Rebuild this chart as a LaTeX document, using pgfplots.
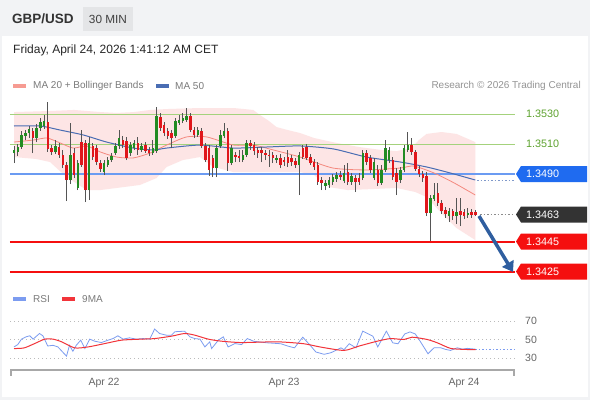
\documentclass[border=0pt]{standalone}
\usepackage{pgfplots}
\pgfplotsset{compat=1.18}
\usepackage{pgfplotstable}
\usetikzlibrary{arrows.meta}
\usepackage{fontspec}
\setmainfont{Liberation Sans}

\definecolor{outerbg}{HTML}{F2F3F5}
\definecolor{minbox}{HTML}{E4E5E7}
\definecolor{cgreen}{HTML}{228B22}
\definecolor{cred}{HTML}{E0161B}
\definecolor{wick}{HTML}{555555}
\definecolor{bandpink}{HTML}{FDE5E5}
\definecolor{ma20}{HTML}{F4897F}
\definecolor{ma50}{HTML}{4A6DB3}
\definecolor{lvlgreen}{HTML}{A4D27C}
\definecolor{txtgreen}{HTML}{5DA22E}
\definecolor{lvlblue}{HTML}{6B9BF2}
\definecolor{tagblue}{HTML}{1F6BF0}
\definecolor{tagdark}{HTML}{333333}
\definecolor{levelred}{HTML}{F50F0F}
\definecolor{arrowblue}{HTML}{2F5E9F}
\definecolor{rsiblue}{HTML}{7C9CF0}
\definecolor{rsired}{HTML}{F2343A}
\definecolor{gridgray}{HTML}{BBBBBB}
\definecolor{lblgray}{HTML}{666666}
\definecolor{axisgray}{HTML}{A8A8A8}

\newcommand{\fs}[1]{\fontsize{#1}{#1}\selectfont}
\newcommand{\pricetag}[3]{%
  \fill[#2] ([xshift=1pt]#1) -- ++(5pt,8pt) -- ++(66pt,0pt) -- ++(0pt,-16pt) -- ++(-66pt,0pt) -- cycle;
  \node[anchor=west, inner sep=0pt, text=white, font=\fs{10.8}] at ([xshift=11pt]#1) {#3};
}

\pgfplotstableread{
t o h l c
24 1.35040 1.35087 1.34973 1.35060
25 1.35047 1.35100 1.35020 1.35080
26 1.35080 1.35187 1.35067 1.35160
27 1.35153 1.35193 1.35127 1.35173
28 1.35173 1.35220 1.35140 1.35200
30 1.35140 1.35233 1.35113 1.35207
31 1.35207 1.35273 1.35187 1.35247
32 1.35220 1.35293 1.35200 1.35253
35 1.35047 1.35127 1.35033 1.35087
39 1.34860 1.35240 1.34833 1.35027
41 1.34807 1.34993 1.34793 1.34973
44 1.34793 1.35147 1.34727 1.35107
48 1.34913 1.34993 1.34893 1.34973
49 1.34960 1.35013 1.34947 1.34993
50 1.34993 1.35040 1.34980 1.35020
51 1.35040 1.35107 1.35027 1.35087
52 1.35087 1.35193 1.35067 1.35140
55 1.35040 1.35113 1.35020 1.35093
56 1.35073 1.35127 1.35060 1.35107
58 1.35060 1.35107 1.35047 1.35087
61 1.35040 1.35127 1.35027 1.35073
62 1.35053 1.35347 1.35040 1.35287
67 1.35153 1.35273 1.35140 1.35253
68 1.35240 1.35293 1.35227 1.35260
69 1.35253 1.35307 1.35240 1.35273
70 1.35260 1.35340 1.35247 1.35287
73 1.35160 1.35213 1.35147 1.35193
78 1.34940 1.35093 1.34880 1.35073
79 1.35087 1.35193 1.35073 1.35160
80 1.35153 1.35240 1.35140 1.35187
82 1.34973 1.35093 1.34960 1.35073
85 1.34993 1.35060 1.34980 1.35027
86 1.35027 1.35127 1.35013 1.35107
94 1.34993 1.35027 1.34973 1.35007
100 1.34960 1.35047 1.34760 1.35027
107 1.34820 1.34860 1.34793 1.34840
108 1.34827 1.34880 1.34807 1.34860
109 1.34847 1.34900 1.34827 1.34880
110 1.34867 1.34913 1.34847 1.34893
112 1.34853 1.34960 1.34840 1.34907
114 1.34847 1.34907 1.34827 1.34887
117 1.34873 1.35060 1.34860 1.35040
120 1.34873 1.35007 1.34860 1.34980
122 1.34840 1.34960 1.34827 1.34927
123 1.34927 1.35127 1.34913 1.35073
124 1.34993 1.35080 1.34973 1.35060
127 1.34860 1.34947 1.34840 1.34927
128 1.34927 1.35093 1.34913 1.35073
129 1.35060 1.35180 1.35047 1.35093
135 1.34640 1.34760 1.34440 1.34740
136 1.34733 1.34840 1.34720 1.34760
140 1.34620 1.34673 1.34580 1.34653
142 1.34620 1.34740 1.34567 1.34647
145 1.34627 1.34673 1.34607 1.34640
}\up

\pgfplotstableread{
t o h l c
29 1.35187 1.35207 1.35040 1.35140
33 1.35247 1.35380 1.35047 1.35067
34 1.35073 1.35093 1.35027 1.35047
36 1.35080 1.35107 1.35007 1.35027
37 1.35027 1.35060 1.34940 1.34960
38 1.34960 1.34980 1.34720 1.34860
40 1.35040 1.35073 1.34873 1.34893
42 1.35113 1.35193 1.34947 1.34960
43 1.35107 1.35127 1.34713 1.34793
45 1.35087 1.35107 1.34993 1.35013
46 1.35073 1.35093 1.34960 1.34980
47 1.34973 1.34993 1.34913 1.34933
53 1.35127 1.35153 1.35073 1.35093
54 1.35120 1.35147 1.34993 1.35007
57 1.35107 1.35147 1.35027 1.35060
59 1.35093 1.35113 1.35040 1.35053
60 1.35060 1.35080 1.35020 1.35040
63 1.35280 1.35307 1.35187 1.35207
64 1.35227 1.35247 1.35153 1.35173
65 1.35187 1.35207 1.35133 1.35153
66 1.35173 1.35193 1.35073 1.35140
71 1.35287 1.35307 1.35180 1.35193
72 1.35193 1.35213 1.35140 1.35160
74 1.35187 1.35207 1.35073 1.35087
75 1.35087 1.35107 1.34980 1.34993
76 1.35073 1.35093 1.34887 1.34927
77 1.35007 1.35027 1.34880 1.34940
81 1.35187 1.35207 1.34920 1.34973
83 1.35027 1.35047 1.34980 1.35013
84 1.35020 1.35060 1.34980 1.35007
87 1.35107 1.35127 1.35060 1.35087
88 1.35093 1.35113 1.35027 1.35053
89 1.35060 1.35080 1.35007 1.35040
90 1.35060 1.35080 1.34980 1.35040
91 1.35040 1.35060 1.34993 1.35027
92 1.35027 1.35060 1.34947 1.35020
93 1.35027 1.35047 1.34973 1.35007
95 1.35007 1.35033 1.34940 1.34960
96 1.34993 1.35013 1.34953 1.34980
97 1.35013 1.35060 1.34947 1.34973
98 1.35007 1.35027 1.34953 1.34980
99 1.34987 1.35007 1.34940 1.34960
101 1.35073 1.35093 1.35000 1.35013
102 1.35080 1.35100 1.34993 1.35007
103 1.35013 1.35033 1.34960 1.34973
104 1.34980 1.35000 1.34927 1.34947
105 1.34960 1.34980 1.34827 1.34847
106 1.34860 1.34880 1.34793 1.34840
111 1.34893 1.34920 1.34860 1.34880
113 1.34913 1.34973 1.34827 1.34847
115 1.34873 1.34893 1.34780 1.34847
116 1.34873 1.34907 1.34827 1.34847
118 1.35040 1.35060 1.34960 1.34980
119 1.35007 1.35027 1.34907 1.34927
121 1.34927 1.34960 1.34820 1.34840
125 1.34993 1.35013 1.34860 1.34880
126 1.34907 1.34940 1.34760 1.34847
130 1.35093 1.35140 1.35027 1.35047
131 1.35047 1.35060 1.34920 1.34933
132 1.34933 1.34953 1.34880 1.34900
133 1.34900 1.34920 1.34847 1.34873
134 1.34887 1.34913 1.34620 1.34640
137 1.34773 1.34840 1.34687 1.34707
138 1.34707 1.34727 1.34633 1.34653
139 1.34660 1.34680 1.34607 1.34633
141 1.34653 1.34667 1.34593 1.34620
143 1.34653 1.34740 1.34553 1.34627
144 1.34647 1.34667 1.34600 1.34620
146 1.34647 1.34667 1.34607 1.34627
147 1.34647 1.34660 1.34620 1.34630
}\down

\pgfplotstableread{
x y
22.933 1.3445
157.6 1.3445
}\supA
\pgfplotstableread{
x y
22.933 1.3425
157.6 1.3425
}\supB

\begin{document}
\begin{tikzpicture}[x=1pt,y=1pt]
\fill[outerbg] (0,0) rectangle (590,400);
\fill[white] (2,3) rectangle (588,364);
\fill[minbox] (83,369) rectangle (133,393);
\node[anchor=west, inner sep=0pt, text=tagdark, font=\fs{13.5}\bfseries] at (12,381) {GBP/USD};
\node[inner sep=0pt, text=black!75, font=\fs{11.8}] at (108,381) {30 MIN};
\node[anchor=west, inner sep=0pt, text=black!85, font=\fs{12}] at (13,350) {Friday, April 24, 2026 1:41:12 AM CET};
% legend
\fill[ma20!85] (13,312) rectangle (26,316);
\node[anchor=west, inner sep=0pt, text=black!52, font=\fs{10}] at (33,314) {MA 20 + Bollinger Bands};
\fill[ma50] (156,312) rectangle (169,316);
\node[anchor=west, inner sep=0pt, text=black!52, font=\fs{10}] at (175,314) {MA 50};
\node[anchor=east, inner sep=0pt, text=black!42, font=\fs{10}] at (581,314) {Research © 2026 Trading Central};

\begin{axis}[
  at={(10pt,118pt)}, anchor=south west, scale only axis,
  width=505pt, height=187pt,
  xmin=22.933, xmax=157.6, ymin=1.34180, ymax=1.354267,
  hide axis, clip=false,
]
\addplot[fill=bandpink, draw=none] coordinates {
(24,1.35313)(33.6,1.35320)(40,1.35327)(47,1.35313)(51.4,1.35307)(56,1.35313)(60.3,1.35327)(64.7,1.35333)(73.6,1.35340)(82.5,1.35340)(87.8,1.35327)(89.6,1.35293)(92,1.35253)(94,1.35213)(97,1.35193)(100.3,1.35173)(104,1.35140)(110,1.35107)(116,1.35080)(122,1.35060)(126,1.35053)(130,1.35073)(132,1.35127)(134,1.35167)(138,1.35180)(142,1.35167)(147,1.35113)
(147,1.34460)(142,1.34540)(138,1.34640)(134,1.34747)(131,1.34780)(126,1.34807)(120,1.34800)(113,1.34793)(108,1.34813)(104,1.34893)(100.3,1.34913)(91.4,1.34913)(82.5,1.34913)(77.2,1.34947)(73.6,1.35013)(69,1.34993)(64.7,1.34947)(62,1.34873)(57.6,1.34827)(51.4,1.34807)(47,1.34793)(43.4,1.34793)(38,1.34880)(33.6,1.34980)(30,1.35000)(24,1.35013)
} -- cycle;
% levels
\addplot[draw=lvlgreen, line width=1pt] coordinates {(22.933,1.3530) (157.6,1.3530)};
\addplot[draw=lvlgreen, line width=1pt] coordinates {(22.933,1.3510) (157.6,1.3510)};
\addplot[draw=lvlblue, line width=1.6pt] coordinates {(22.933,1.3490) (157.6,1.3490)};
\addplot[color=levelred, line width=2pt, mark=none] table[x=x,y=y] {\supA};
\addplot[color=levelred, line width=2pt, mark=none] table[x=x,y=y] {\supB};
% moving averages
\addplot[draw=ma20, line width=0.8pt, smooth, tension=0.4] coordinates {
(24,1.35113)(29.3,1.35127)(32.8,1.35140)(36.3,1.35107)(39.8,1.35073)(43.4,1.35087)(47,1.35047)(51.4,1.35013)(55.8,1.35007)(60.3,1.35040)(64.7,1.35093)(70,1.35147)(75.4,1.35147)(82.5,1.35093)(87.8,1.35093)(93.2,1.35060)(100.3,1.35013)(109,1.34940)(118,1.34927)(127,1.34940)(130.6,1.34953)(136,1.34907)(141.4,1.34840)(147,1.34760)};
\addplot[draw=ma50, line width=1pt, smooth, tension=0.4] coordinates {
(24,1.35220)(31,1.35220)(36.3,1.35193)(42.5,1.35160)(48.7,1.35113)(55.8,1.35073)(61.2,1.35060)(64.7,1.35073)(73.6,1.35093)(82.5,1.35073)(91.4,1.35080)(100.3,1.35087)(109.2,1.35067)(118,1.35013)(127,1.34980)(134,1.34947)(140.3,1.34907)(147,1.34860)};
\addplot[draw=ma50!70, line width=0.9pt, dash pattern=on 1.5pt off 2pt] coordinates {(147.5,1.34860)(157.6,1.34860)};
\addplot[draw=black!45, line width=0.9pt, dash pattern=on 1.5pt off 2pt] coordinates {(148.3,1.34630)(157.6,1.34630)};
% wicks
\addplot[draw=none, mark=none, error bars/.cd, y dir=plus, y explicit, error mark=none,
  error bar style={draw=wick, line width=0.7pt}]
  table[x=t, y=l, y error plus expr={\thisrow{h}-\thisrow{l}}] {\up};
\addplot[draw=none, mark=none, error bars/.cd, y dir=plus, y explicit, error mark=none,
  error bar style={draw=wick, line width=0.7pt}]
  table[x=t, y=l, y error plus expr={\thisrow{h}-\thisrow{l}}] {\down};
% bodies
\addplot[draw=none, mark=none, error bars/.cd, y dir=plus, y explicit, error mark=none,
  error bar style={draw=cgreen, line width=2.5pt}]
  table[x=t, y=o, y error plus expr={\thisrow{c}-\thisrow{o}}] {\up};
\addplot[draw=none, mark=none, error bars/.cd, y dir=plus, y explicit, error mark=none,
  error bar style={draw=cred, line width=2.5pt}]
  table[x=t, y=c, y error plus expr={\thisrow{o}-\thisrow{c}}] {\down};
\coordinate (P3530) at (axis cs:157.6,1.3530);
\coordinate (P3510) at (axis cs:157.6,1.3510);
\coordinate (P3490) at (axis cs:157.6,1.3490);
\coordinate (P3463) at (axis cs:157.6,1.3463);
\coordinate (P3445) at (axis cs:157.6,1.3445);
\coordinate (P3425) at (axis cs:157.6,1.3425);
\coordinate (L3445) at (axis cs:22.933,1.3445);
\coordinate (L3425) at (axis cs:22.933,1.3425);
\coordinate (A1) at (axis cs:148.0,1.34620);
\coordinate (A2) at (axis cs:157.07,1.34247);
\end{axis}
\draw[levelred, line width=2pt] (L3445) -- (P3445);
\draw[levelred, line width=2pt] (L3425) -- (P3425);
\node[anchor=west, inner sep=0pt, text=txtgreen, font=\fs{10.8}] at ([xshift=11pt]P3530) {1.3530};
\node[anchor=west, inner sep=0pt, text=txtgreen, font=\fs{10.8}] at ([xshift=11pt]P3510) {1.3510};
\pricetag{P3490}{tagblue}{1.3490}
\pricetag{P3463}{tagdark}{1.3463}
\pricetag{P3445}{levelred}{1.3445}
\pricetag{P3425}{levelred}{1.3425}
\draw[arrowblue, line width=3.5pt, -{Triangle[length=10pt,width=13pt]}] (A1) -- (A2);

% RSI legend
\fill[rsiblue] (13,99) rectangle (26,103);
\node[anchor=west, inner sep=0pt, text=black!52, font=\fs{10}] at (33,101) {RSI};
\fill[rsired] (62,99) rectangle (75,103);
\node[anchor=west, inner sep=0pt, text=black!52, font=\fs{10}] at (82,101) {9MA};

\begin{axis}[
  at={(10pt,30pt)}, anchor=south west, scale only axis,
  width=505pt, height=60pt,
  xmin=22.933, xmax=157.6, ymin=17.03, ymax=81.89,
  axis x line=bottom, axis y line=none,
  x axis line style={-, draw=axisgray, line width=1.5pt},
  xtick={48,96,144}, xticklabels={Apr 22,Apr 23,Apr 24},
  major tick length=0pt,
  xticklabel style={font=\fs{10.5}, text=lblgray},
  xticklabel shift=4.5pt,
  ytick=\empty, clip=false,
]
\addplot[draw=gridgray, line width=1pt, dash pattern=on 1pt off 3pt] coordinates {(22.933,70)(157.6,70)};
\addplot[draw=gridgray, line width=1pt, dash pattern=on 1pt off 3pt] coordinates {(22.933,50)(157.6,50)};
\addplot[draw=gridgray, line width=1pt, dash pattern=on 1pt off 3pt] coordinates {(22.933,30)(157.6,30)};
\addplot[draw=rsiblue, line width=0.8pt] coordinates {
(24,42)(25,44.5)(26,50.4)(27.3,53)(28.2,54)(29.1,50.4)(30.8,56.5)(31.7,54)(33,43)(34.4,43.7)(35.7,42)(38,32)(38.8,43.7)(39.7,37.3)(40.6,43.7)(41.8,49.3)(42.9,40.2)(44.2,50.4)(45.5,48.2)(47.3,46.7)(49.1,49.3)(50.4,51)(51.7,54)(53.1,50.4)(54.8,51.8)(56.6,50.4)(58.4,51)(60.2,50.4)(61.5,61.3)(62.8,56.5)(64.6,54.7)(66,54.7)(66.9,58.4)(69.5,59)(70.9,52.9)(72.2,51)(73.6,50.4)(74.9,42)(76.2,47.5)(76.7,40.2)(78.5,49.3)(79.8,52.9)(81.1,42)(82.9,45.6)(84.7,44.5)(86.2,51)(88,48)(91.6,46.4)(95.2,45.4)(97,42.9)(98.8,41)(101,52.5)(102.8,44.6)(104.5,36.5)(106.7,34)(108.5,35.7)(111.2,41)(112,39)(113.4,45.4)(115.2,41)(117,59)(118.8,55.4)(119.7,53.6)(121,42)(123.3,59)(125,46.4)(126.4,45.4)(128.2,56)(129.6,58.2)(131,56)(132.3,48.2)(134.4,34.6)(136,41)(137.8,41)(139.1,39.3)(140.4,38.2)(142.2,41)(143.6,39.6)(144.9,40.4)(147,39.6)};
\addplot[draw=rsiblue, line width=0.8pt, dash pattern=on 1.5pt off 2pt] coordinates {(147,39.6)(157.6,39.6)};
\addplot[draw=rsired, line width=1pt, smooth, tension=0.4] coordinates {
(24,40.2)(26.7,40.9)(29.5,45.6)(32.2,50.4)(34.4,50.4)(36.7,47.5)(40.2,40.9)(43.8,42)(48.2,45.6)(52.7,49.3)(58,50.4)(61.5,51)(66,53.6)(69.5,56.5)(72.2,54.7)(75.8,50.4)(79.3,48.2)(84.7,46.7)(94.2,47.5)(101.3,45.4)(105.8,41.8)(112,38.2)(116,42.9)(120.9,48.2)(124.4,51)(128,50)(130.2,52.5)(134.2,50)(136.9,46.4)(140.4,40.4)(144,39.3)(147.1,39)};
\coordinate (R70) at (axis cs:157.6,70);
\coordinate (R50) at (axis cs:157.6,50);
\coordinate (R30) at (axis cs:157.6,30);
\end{axis}
\node[anchor=west, inner sep=0pt, text=lblgray, font=\fs{10.5}] at ([xshift=10pt]R70) {70};
\node[anchor=west, inner sep=0pt, text=lblgray, font=\fs{10.5}] at ([xshift=10pt]R50) {50};
\node[anchor=west, inner sep=0pt, text=lblgray, font=\fs{10.5}] at ([xshift=10pt]R30) {30};
\draw[axisgray, line width=1.5pt] (11,30.75) -- (11,24);
\draw[axisgray, line width=1.5pt] (514,30.75) -- (514,24);
\end{tikzpicture}
\end{document}
